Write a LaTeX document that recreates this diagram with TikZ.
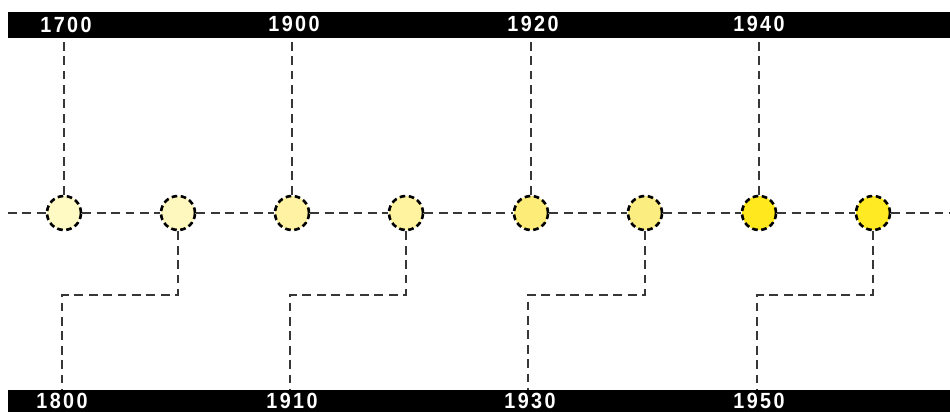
\documentclass[tikz,border=0pt]{standalone}
\usepackage{fontspec}
\setmainfont{Liberation Sans}
\newfontfamily\yearfont[FakeStretch=0.9]{Liberation Sans}
\usepackage{tikz}
\usetikzlibrary{positioning, calc}
\definecolor{dotA}{RGB}{255, 249, 196}
\definecolor{dotB}{RGB}{255, 248, 190}
\definecolor{dotC}{RGB}{255, 243, 163}
\definecolor{dotD}{RGB}{255, 243, 160}
\definecolor{dotE}{RGB}{253, 237, 120}
\definecolor{dotF}{RGB}{252, 237, 128}
\definecolor{dotG}{RGB}{255, 233, 30}
\definecolor{dotH}{RGB}{255, 234, 35}
\definecolor{linegray}{RGB}{55, 55, 55}
\begin{document}
\begin{tikzpicture}[x=0.02cm, y=-0.02cm,
  dot/.style={circle, draw=black, line width=1.5pt, dash pattern=on 3.2pt off 2pt, minimum size=0.68cm, inner sep=0pt},
  conn/.style={linegray, line width=1.5pt, dash pattern=on 5pt off 3.2pt},
  bar/.style={fill=black, draw=none, inner sep=0pt, anchor=north west},
  year/.style={text=white, font=\yearfont\bfseries\fontsize{12.5}{13}\selectfont, inner sep=0pt}]
\useasboundingbox (0,0) rectangle (950,412);
% bars
\node[bar, minimum width=18.84cm, minimum height=0.52cm] (top) at (8,12) {};
\node[bar, minimum width=18.84cm, minimum height=0.5cm] (bot) at (8,390) {};
\node[year] (y1700) at (66,25) {1\kern1.4pt7\kern1.4pt0\kern1.4pt0};
\node[year] (y1900) at (294,24) {1\kern1.4pt9\kern1.4pt0\kern1.4pt0};
\node[year] (y1920) at (533,24) {1\kern1.4pt9\kern1.4pt2\kern1.4pt0};
\node[year] (y1940) at (759,24) {1\kern1.4pt9\kern1.4pt4\kern1.4pt0};
\node[year] (y1800) at (62,401) {1\kern1.4pt8\kern1.4pt0\kern1.4pt0};
\node[year] (y1910) at (292,401) {1\kern1.4pt9\kern1.4pt1\kern1.4pt0};
\node[year] (y1930) at (530,401) {1\kern1.4pt9\kern1.4pt3\kern1.4pt0};
\node[year] (y1950) at (759,401) {1\kern1.4pt9\kern1.4pt5\kern1.4pt0};
% dots
\node[dot, fill=dotA] (c1) at (64,213) {};
\node[dot, fill=dotB] (c2) at (178,213) {};
\node[dot, fill=dotC] (c3) at (292,213) {};
\node[dot, fill=dotD] (c4) at (406,213) {};
\node[dot, fill=dotE] (c5) at (531,213) {};
\node[dot, fill=dotF] (c6) at (645,213) {};
\node[dot, fill=dotG] (c7) at (759,213) {};
\node[dot, fill=dotH] (c8) at (873,213) {};
\coordinate (lft) at (8,213);
\coordinate (rgt) at (950,213);
\coordinate (k1) at (62,295);
\coordinate (k2) at (290,295);
\coordinate (k3) at (528,295);
\coordinate (k4) at (757,295);
% main line
\draw[conn] (lft) -- (c1) -- (c2) -- (c3) -- (c4) -- (c5) -- (c6) -- (c7) -- (c8) -- (rgt);
% up to the top bar
\draw[conn] (c1) -- (c1 |- top.south);
\draw[conn] (c3) -- (c3 |- top.south);
\draw[conn] (c5) -- (c5 |- top.south);
\draw[conn] (c7) -- (c7 |- top.south);
% down to the bottom bar
\draw[conn] (c2) |- (k1) -- (k1 |- bot.north);
\draw[conn] (c4) |- (k2) -- (k2 |- bot.north);
\draw[conn] (c6) |- (k3) -- (k3 |- bot.north);
\draw[conn] (c8) |- (k4) -- (k4 |- bot.north);
\end{tikzpicture}
\end{document}
